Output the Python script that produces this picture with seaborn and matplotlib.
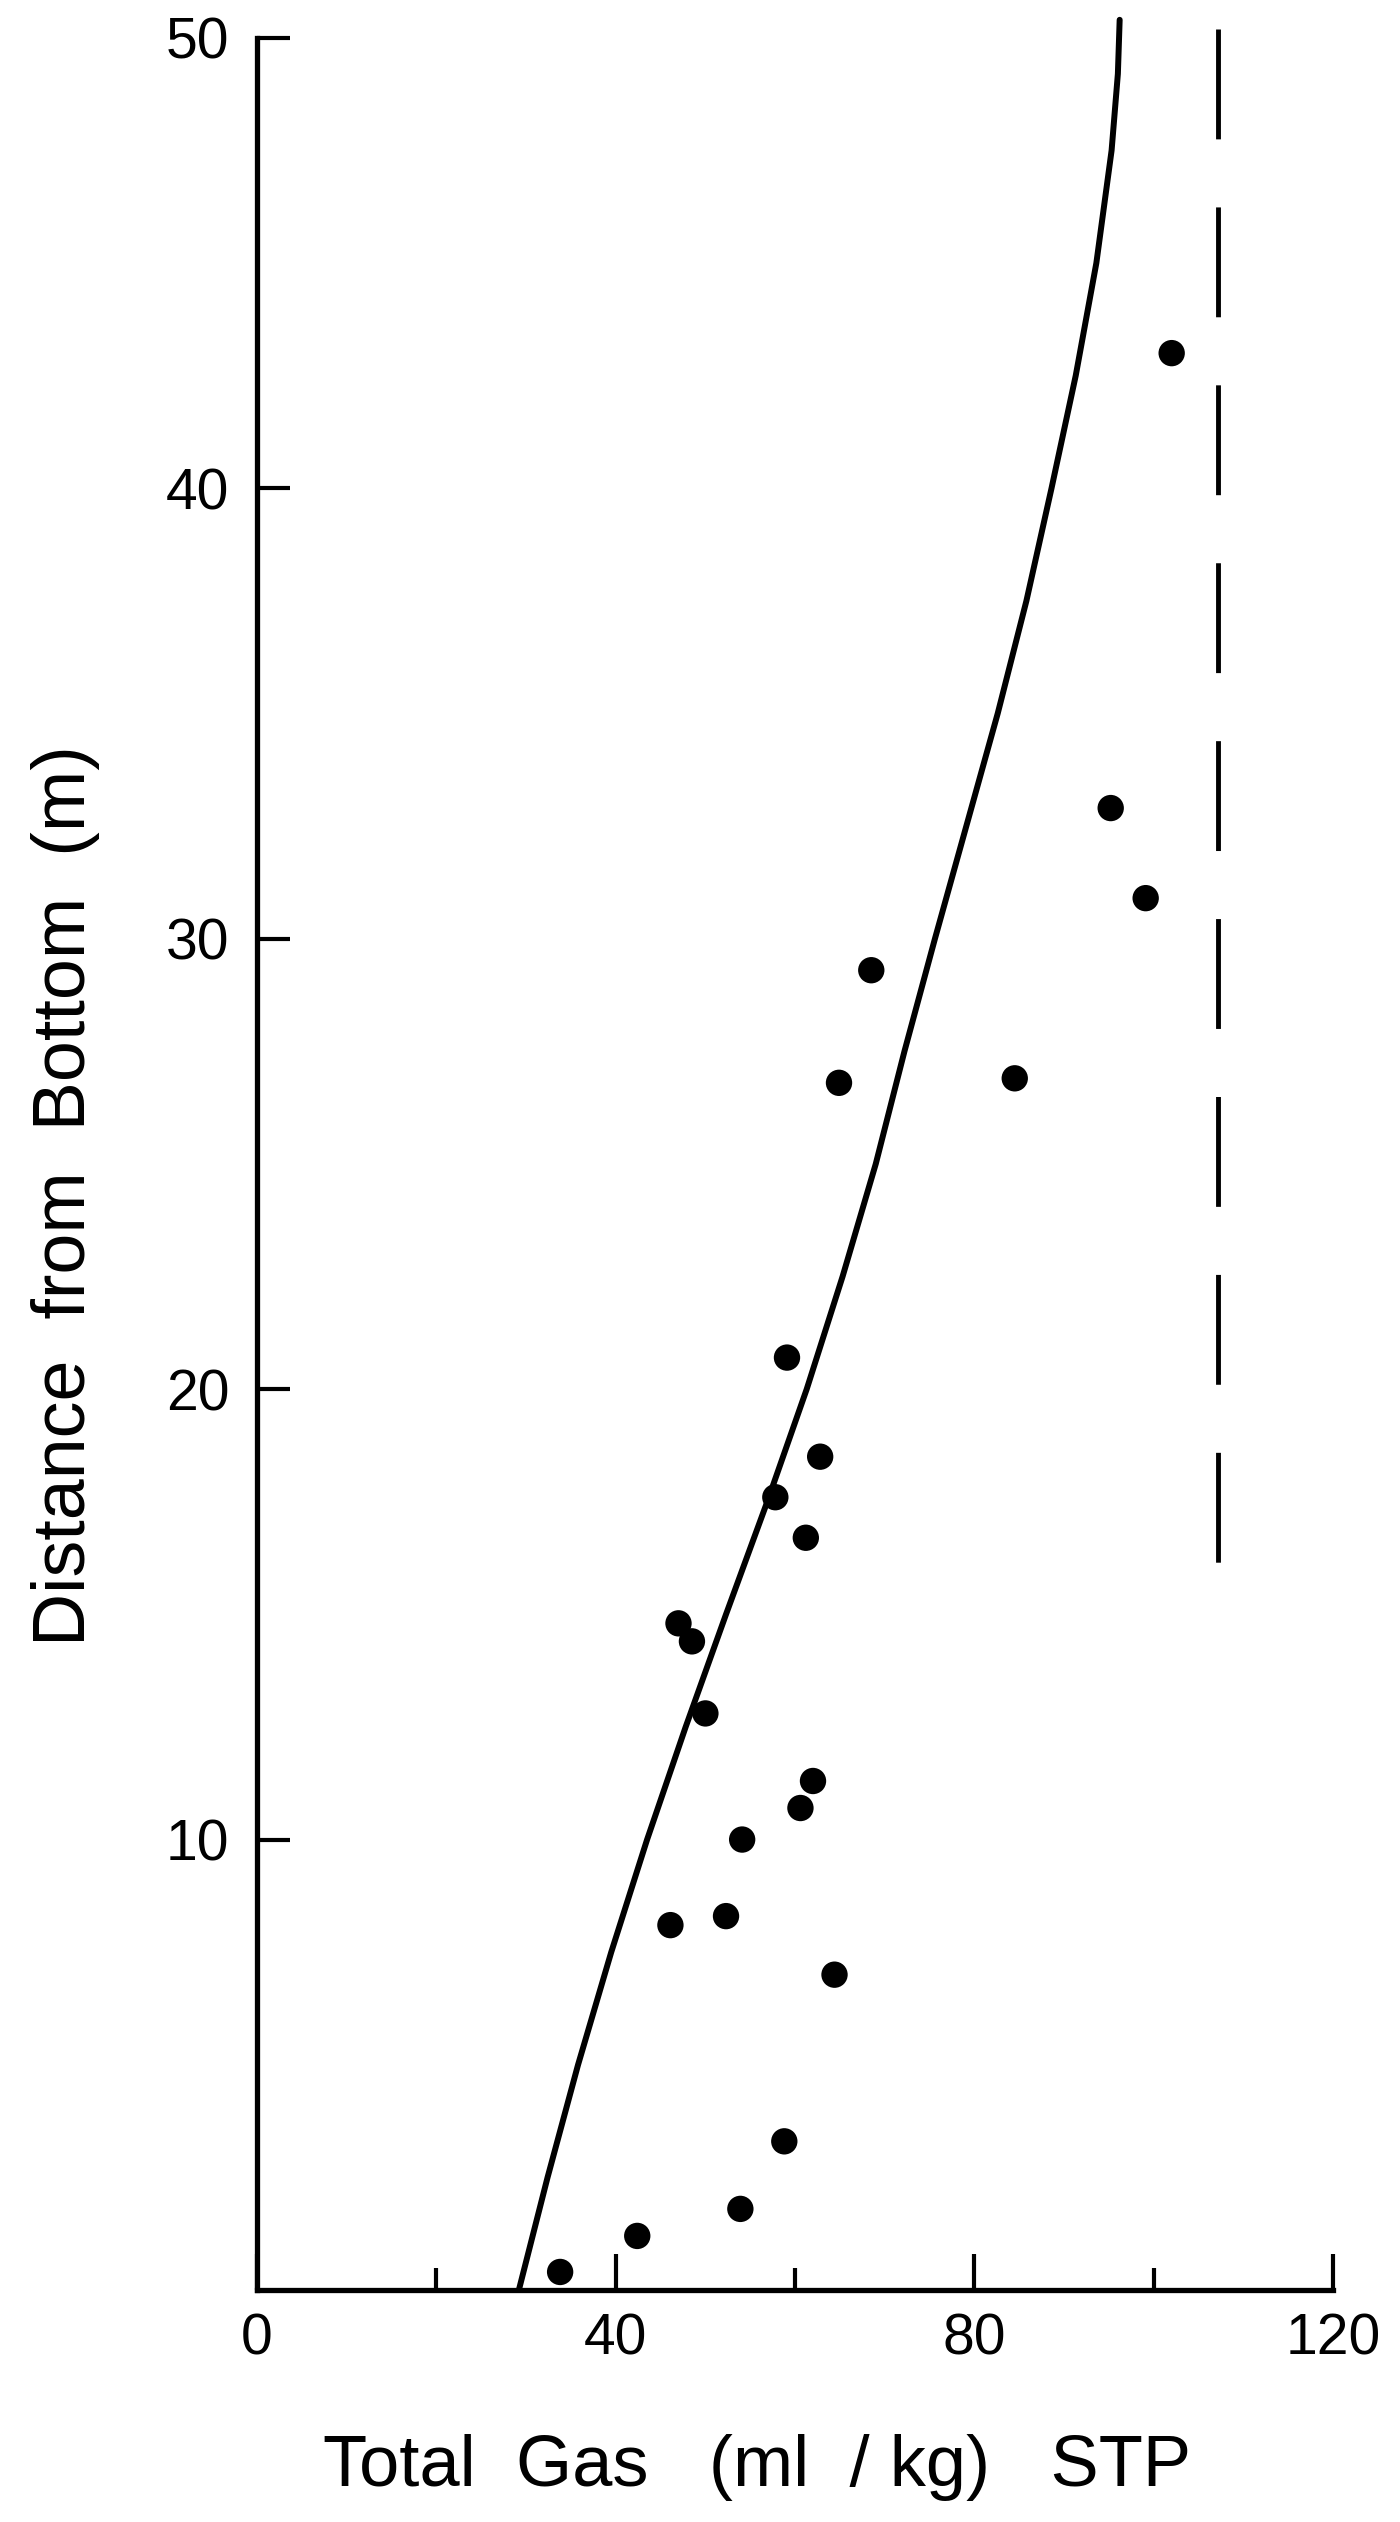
import matplotlib
matplotlib.use("Agg")
import matplotlib.pyplot as plt
import seaborn as sns

# === dati ===
gas = [33.8, 42.4, 53.9, 58.8, 64.4, 46.1, 52.3, 54.1, 60.6, 62.0, 50.0, 47.0,
       48.5, 61.2, 57.8, 62.8, 59.1, 64.9, 84.5, 68.5, 99.1, 95.2, 102.0]
dist = [0.4, 1.2, 1.8, 3.3, 7.0, 8.1, 8.3, 10.0, 10.7, 11.3, 12.8, 14.8,
        14.4, 16.7, 17.6, 18.5, 20.7, 26.8, 26.9, 29.3, 30.9, 32.9, 43.0]

# curva teorica
curve_gas = [29.2, 32.4, 35.8, 39.5, 43.5, 47.8, 52.3, 56.9, 61.3, 65.3, 69.0,
             72.2, 75.6, 79.1, 82.6, 85.8, 88.6, 91.3, 93.6, 95.3, 96.0, 96.2]
curve_dist = [0, 2.5, 5, 7.5, 10, 12.5, 15, 17.5, 20, 22.5, 25,
              27.5, 30, 32.5, 35, 37.5, 40, 42.5, 45, 47.5, 49.2, 50.4]

# linea tratteggiata verticale
limit_gas = [107.2, 107.2]
limit_dist = [50.2, 16.0]

x_major = [0, 40, 80, 120]
x_minor = [20, 60, 100]
y_major = [10, 20, 30, 40, 50]

sns.set_style("ticks")
plt.rcParams.update({
    "font.family": ["Liberation Sans", "DejaVu Sans"],
    "text.color": "black",
    "axes.labelcolor": "black",
    "xtick.color": "black",
    "ytick.color": "black",
    "xtick.direction": "in",
    "ytick.direction": "in",
    "xtick.bottom": True,
    "ytick.left": True,
})

fig = plt.figure(figsize=(14, 25.22), dpi=100)
ax = fig.add_axes([0.1836, 0.0920, 0.7686, 0.8930])

sns.lineplot(x=curve_gas, y=curve_dist, sort=False, estimator=None,
             color="black", linewidth=4.3, ax=ax)
sns.lineplot(x=limit_gas, y=limit_dist, sort=False, estimator=None,
             color="black", linewidth=3.5, linestyle=(0, (22.6, 14)), ax=ax)
sns.scatterplot(x=gas, y=dist, s=360, color="black", edgecolor="none", ax=ax, zorder=3)
for line in ax.lines:
    line.set_clip_on(False)
    line.set_solid_joinstyle("round")

ax.set_xlim(0, 120)
ax.set_ylim(0, 50)
ax.set_xticks(x_major)
ax.set_xticks(x_minor, minor=True)
ax.set_yticks(y_major)

sns.despine(ax=ax)
for side in ["left", "bottom"]:
    ax.spines[side].set_linewidth(3.8)
    ax.spines[side].set_color("black")

ax.tick_params(axis="x", which="major", direction="in", length=26, width=3,
               labelsize=41, pad=16)
ax.tick_params(axis="x", which="minor", direction="in", length=16, width=3)
ax.tick_params(axis="y", which="major", direction="in", length=24, width=3,
               labelsize=41, pad=20)
ax.tick_params(axis="y", which="minor", left=False)

ax.set_xlabel("Total  Gas   (ml  / kg)   STP", fontsize=52)
ax.set_ylabel("Distance  from  Bottom  (m)", fontsize=53)
ax.xaxis.set_label_coords(0.4647, -0.064)
ax.yaxis.set_label_coords(-0.146, 0.486)

fig.savefig("out.png", dpi=100, facecolor="white")
